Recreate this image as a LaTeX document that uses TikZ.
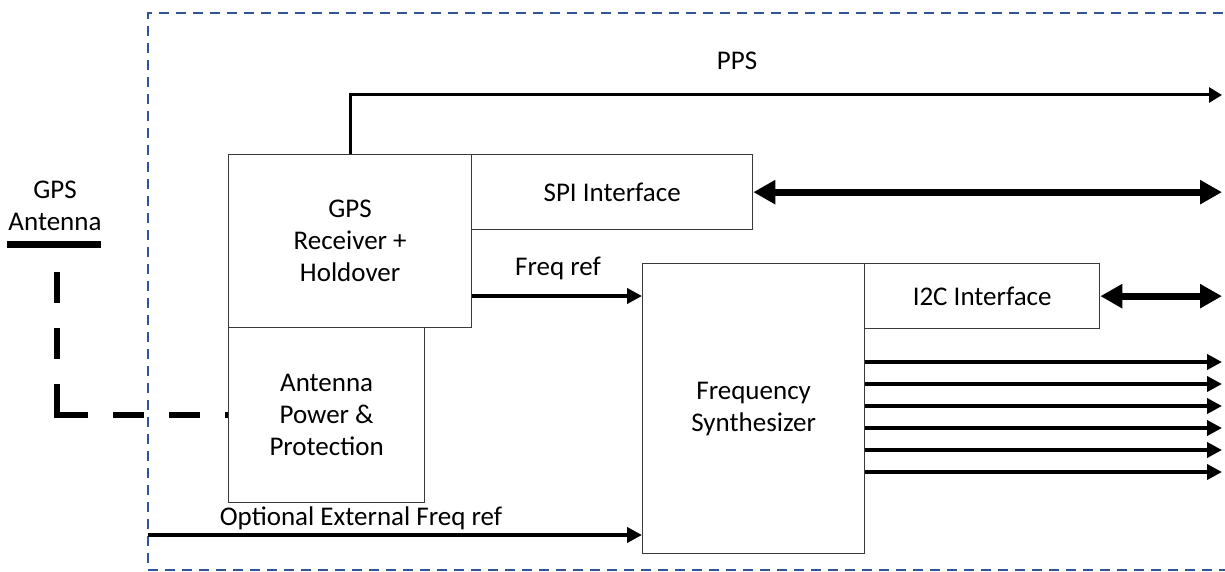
\documentclass[tikz,border=0pt]{standalone}
\usepackage{fontspec}
\setmainfont{Carlito}
\usetikzlibrary{arrows.meta}
\definecolor{bordblue}{HTML}{2F5597}
\definecolor{boxline}{HTML}{3A3A3A}
\tikzset{
  box/.style={draw=boxline, line width=1.3pt, anchor=north west, inner sep=0pt,
    align=center, font=\fontsize{27}{32}\selectfont},
  lbl/.style={inner sep=0pt, align=center, font=\fontsize{27}{32}\selectfont},
  sig/.style={line width=4pt, -{Triangle[length=15pt,width=15pt]}},
  ppsline/.style={line width=3pt, -{Triangle[length=13pt,width=15pt]}},
  bus/.style={line width=7pt, {Triangle[length=22pt,width=23pt]}-{Triangle[length=22pt,width=23pt]}},
  border/.style={draw=bordblue, line width=2pt, dash pattern=on 10pt off 7pt},
  antdash/.style={line width=6pt, line join=miter,
    dash pattern=on 31pt off 25pt on 31pt off 25pt on 62pt off 25pt on 31pt off 25pt on 31pt off 25pt on 3pt off 100pt}
}
\begin{document}
\begin{tikzpicture}[x=1pt,y=-1pt]
\useasboundingbox (0,0) rectangle (1225,572);
\clip (0,0) rectangle (1225,572);
\fill[white] (0,0) rectangle (1225,572);

% dashed enclosure
\draw[border] (1240,13) -- (148,13) -- (148,570) -- (1240,570);

% boxes
\node[box, minimum width=243pt, minimum height=173pt] (gps) at (228,154) {GPS\\Receiver +\\Holdover};
\node[box, minimum width=281pt, minimum height=75pt] (spi) at (471,154) {SPI Interface};
\node[box, minimum width=196pt, minimum height=175pt] (ant) at (228,327) {Antenna\\Power \&\\Protection};
\node[box, minimum width=222pt, minimum height=290pt] (syn) at (642,263) {Frequency\\Synthesizer};
\node[box, minimum width=235pt, minimum height=65pt] (i2c) at (864,263) {I2C Interface};

% helper coordinates
\coordinate (re) at (1222,0);
\coordinate (ppsend) at (1222,95);
\coordinate (yfr) at (0,296);
\coordinate (optstart) at (148,535);

% PPS
\draw[ppsline] (gps.north) |- (ppsend);
\node[lbl] (ppslbl) at (737,61) {PPS};

% SPI bus
\draw[bus] (spi.east) -- (spi.east -| re);

% I2C bus
\draw[bus] (i2c.east) -- (i2c.east -| re);

% Freq ref
\draw[sig] (gps.east |- yfr) -- (syn.west |- yfr);
\node[lbl] (frlbl) at (558,268) {Freq ref};

% synthesizer outputs
\foreach \yy in {362,384,406,428,450,472} {
  \coordinate (o\yy) at (0,\yy);
  \draw[sig] (syn.east |- o\yy) -- (re |- o\yy);
}

% optional external ref
\draw[sig] (optstart) -- (syn.west |- optstart);
\node[lbl] (optlbl) at (361,518) {Optional External Freq ref};

% GPS antenna
\node[lbl] (antlbl) at (55,206) {GPS\\Antenna};
\coordinate (barL) at (7,244);
\coordinate (barR) at (101,244);
\draw[line width=7pt] (barL) -- (barR);
\coordinate (dstart) at (57,272);
\draw[antdash] (dstart) |- (ant.west);
\end{tikzpicture}
\end{document}
